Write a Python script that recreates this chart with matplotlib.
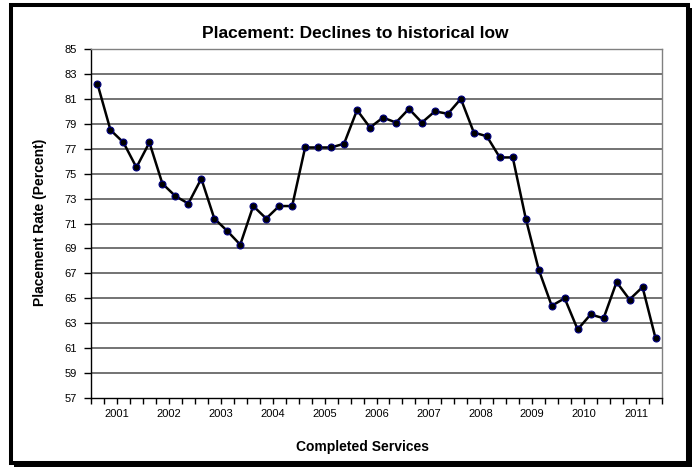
import matplotlib.pyplot as plt
import matplotlib.patches as mpatches
import numpy as np

plt.rcParams["font.family"] = ["Liberation Sans", "DejaVu Sans"]

W, H = 697, 467

# quarterly placement rate, 2001 Q1 .. 2011 Q4
rate = [82.2, 78.5, 77.5, 75.5,
        77.5, 74.2, 73.2, 72.6,
        74.6, 71.4, 70.4, 69.3,
        72.4, 71.4, 72.4, 72.4,
        77.1, 77.1, 77.1, 77.4,
        80.1, 78.7, 79.5, 79.1,
        80.2, 79.1, 80.0, 79.8,
        81.0, 78.3, 78.0, 76.3,
        76.3, 71.4, 67.3, 64.4,
        65.0, 62.5, 63.7, 63.4,
        66.3, 64.9, 65.9, 61.8]
years = ["2001", "2002", "2003", "2004", "2005", "2006",
         "2007", "2008", "2009", "2010", "2011"]
yticks = list(range(57, 86, 2))


def fx(px):
    return px / W


def fy(py):
    return 1 - py / H


fig = plt.figure(figsize=(W / 100, H / 100), dpi=100)

#%% outer frame with shadow
fig.patches.append(mpatches.Rectangle((fx(11), fy(463)), fx(677), 458 / H,
                                      transform=fig.transFigure, fill=False,
                                      lw=2.9, ec="black"))
fig.patches.append(mpatches.Rectangle((fx(688), fy(467)), fx(4), 459 / H,
                                      transform=fig.transFigure, fc="black", ec="none"))
fig.patches.append(mpatches.Rectangle((fx(14), fy(467)), fx(678), 4 / H,
                                      transform=fig.transFigure, fc="black", ec="none"))

#%% plot area
left, right, top, bottom = 91, 662, 49, 398
ax = fig.add_axes([fx(left), fy(bottom), fx(right - left), (bottom - top) / H])

x = np.arange(len(rate))
ax.plot(x, rate, "-", color="black", lw=1.8, zorder=3)
ax.plot(x, rate, "o", ms=5, mfc="black", mec="#000080", mew=0.8, zorder=4)

ax.set_xlim(-0.5, len(rate) - 0.5)
ax.set_ylim(57, 85)
ax.set_yticks(yticks)
ax.set_yticklabels([str(v) for v in yticks], fontsize=8)
for v in yticks[1:]:
    ax.axhline(v, color="#4d4d4d", lw=1.1, zorder=1)

ax.xaxis.remove_overlapping_locs = False
ax.set_xticks(np.arange(-0.5, len(rate), 1))
ax.set_xticklabels([])
ax.set_xticks(np.arange(1.5, len(rate), 4), minor=True)
ax.set_xticklabels(years, minor=True, fontsize=8)
ax.tick_params(axis="x", which="major", direction="out", length=4, width=1)
ax.tick_params(axis="x", which="minor", length=0, pad=8)
ax.tick_params(axis="y", direction="out", length=5, width=1, pad=5)

ax.spines["left"].set_color("black")
ax.spines["bottom"].set_color("black")
ax.spines["top"].set_color("#808080")
ax.spines["right"].set_color("#808080")
for s in ax.spines.values():
    s.set_linewidth(1.0)

fig.text(fx(355), fy(33), "Placement: Declines to historical low",
         ha="center", va="center", fontsize=12.5, fontweight="bold")
fig.text(fx(362), fy(447), "Completed Services",
         ha="center", va="center", fontsize=10, fontweight="bold")
fig.text(fx(40), fy(222), "Placement Rate (Percent)", rotation=90,
         ha="center", va="center", fontsize=10, fontweight="bold")

fig.savefig("out.png", dpi=100)
